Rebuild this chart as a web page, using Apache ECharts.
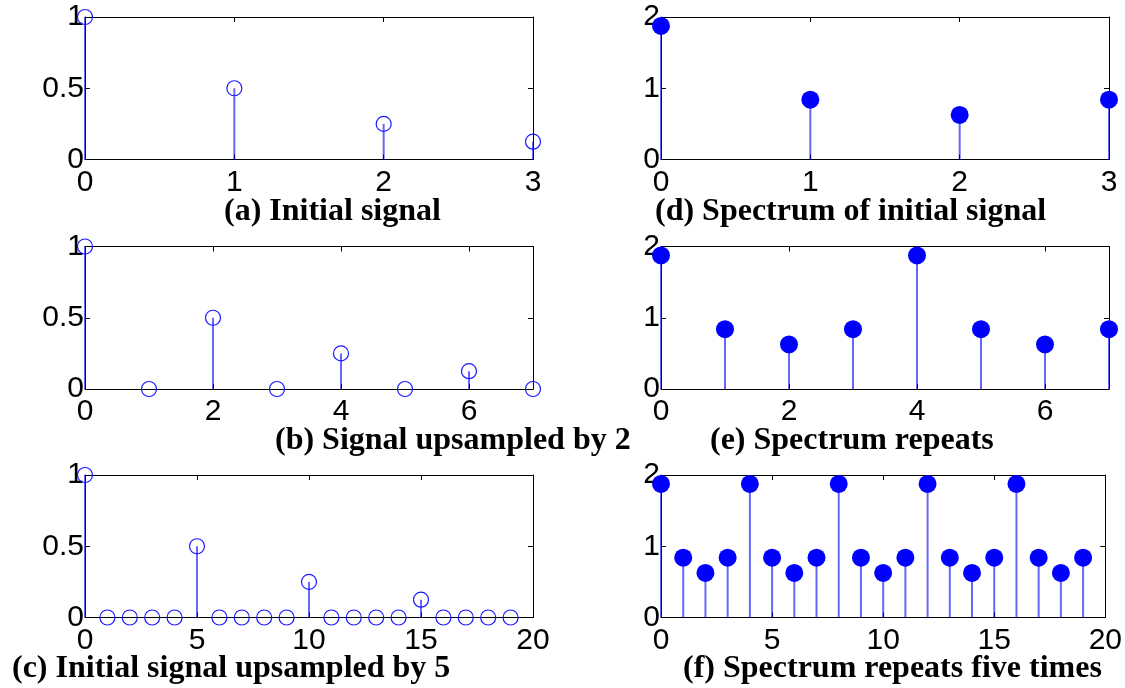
<!DOCTYPE html>
<html>
<head>
<meta charset="utf-8">
<title>Upsampling and spectrum</title>
<script src="https://cdn.jsdelivr.net/npm/echarts@6/dist/echarts.min.js"></script>
<style>
  html, body { margin: 0; padding: 0; background: #fff; }
  #chart { width: 1125px; height: 688px; }
</style>
</head>
<body>
<div id="chart"></div>
<script>
// signal samples
const signalA = [1, 0.5, 0.25, 0.125];
const signalB = [1, 0, 0.5, 0, 0.25, 0, 0.125, 0];
const signalC = [1, 0, 0, 0, 0, 0.5, 0, 0, 0, 0, 0.25, 0, 0, 0, 0, 0.125, 0, 0, 0, 0];
// spectrum magnitudes
const spectrumD = [1.875, 0.839, 0.625, 0.839];
const spectrumE = [1.875, 0.839, 0.625, 0.839, 1.875, 0.839, 0.625, 0.839];
const spectrumF = [1.875, 0.839, 0.625, 0.839, 1.875, 0.839, 0.625, 0.839, 1.875, 0.839,
                   0.625, 0.839, 1.875, 0.839, 0.625, 0.839, 1.875, 0.839, 0.625, 0.839];

// tick labels
const xTicks4 = [0, 1, 2, 3];
const xTicks8 = [0, 2, 4, 6];
const xTicks20 = [0, 5, 10, 15, 20];
const yTicksSignal = [0, 0.5, 1];
const yTicksSpectrum = [0, 1, 2];

const titles = [
  '(a) Initial signal',
  '(b) Signal upsampled by 2',
  '(c) Initial signal upsampled by 5',
  '(d) Spectrum of initial signal',
  '(e) Spectrum repeats',
  '(f) Spectrum repeats five times'
];

// panel layout: [left, top, xmax, ymax, xticks, yticks, values, filled, title x, title y]
const panels = [
  [85, 17, 3, 1, xTicks4, yTicksSignal, signalA, false, 224, 212],
  [85, 246.5, 7, 1, xTicks8, yTicksSignal, signalB, false, 275, 441],
  [85, 475, 20, 1, xTicks20, yTicksSignal, signalC, false, 12, 669],
  [661, 17, 3, 2, xTicks4, yTicksSpectrum, spectrumD, true, 655, 212],
  [661, 246.5, 7, 2, xTicks8, yTicksSpectrum, spectrumE, true, 710, 441],
  [661, 475, 20, 2, xTicks20, yTicksSpectrum, spectrumF, true, 683, 669]
];

const grid = [], xAxis = [], yAxis = [], series = [], graphic = [];
const lineStyle = { color: '#000', width: 1 };
const labelFont = { fontFamily: 'Liberation Sans, Arial', fontSize: 30, color: '#000' };

// one axis of the box, ticks pointing inside like matlab
function boxAxis(i, max, pos, ticks, withLabels, margin) {
  return {
    gridIndex: i, type: 'value', min: 0, max: max, position: pos,
    axisLine: { show: true, onZero: false, lineStyle: lineStyle },
    axisTick: { show: true, inside: true, length: 5, lineStyle: lineStyle, customValues: ticks },
    axisLabel: withLabels
      ? Object.assign({ show: true, margin: margin, customValues: ticks }, labelFont)
      : { show: false },
    splitLine: { show: false }
  };
}

panels.forEach((p, i) => {
  const [left, top, xmax, ymax, xt, yt, vals, filled, tx, ty] = p;
  grid.push({ left: left, top: top, width: 448, height: 142.5 });
  xAxis.push(boxAxis(i, xmax, 'bottom', xt, true, 8));
  xAxis.push(boxAxis(i, xmax, 'top', xt, false));
  yAxis.push(boxAxis(i, ymax, 'left', yt, true, 1));
  yAxis.push(boxAxis(i, ymax, 'right', yt, false));

  const data = vals.map((v, k) => [k, v]);
  // stems
  series.push({
    type: 'custom', xAxisIndex: i * 2, yAxisIndex: i * 2, clip: false, z: 3,
    data: data,
    renderItem: function (params, api) {
      const p0 = api.coord([api.value(0), 0]);
      const p1 = api.coord([api.value(0), api.value(1)]);
      return {
        type: 'line',
        shape: { x1: p0[0], y1: p0[1], x2: p1[0], y2: p1[1] },
        style: { stroke: 'rgba(0,0,255,0.6)', lineWidth: 2 }
      };
    }
  });
  // markers
  series.push({
    type: 'scatter', xAxisIndex: i * 2, yAxisIndex: i * 2, clip: false, z: 4,
    data: data,
    symbol: 'circle',
    symbolSize: filled ? 18 : 15,
    itemStyle: filled
      ? { color: '#0000ff', opacity: 1 }
      : { color: 'rgba(0,0,0,0)', borderColor: '#1a1aff', borderWidth: 1.2, opacity: 1 },
    emphasis: { disabled: true }
  });

  graphic.push({
    type: 'text', x: tx, y: ty, silent: true,
    style: {
      text: titles[i],
      font: 'bold 32px "Liberation Serif", "Times New Roman", serif',
      fill: '#000', textAlign: 'left', textVerticalAlign: 'middle'
    }
  });
});

const chart = echarts.init(document.getElementById('chart'));
chart.setOption({
  animation: false,
  backgroundColor: '#fff',
  grid: grid,
  xAxis: xAxis,
  yAxis: yAxis,
  series: series,
  graphic: graphic
});
</script>
</body>
</html>
